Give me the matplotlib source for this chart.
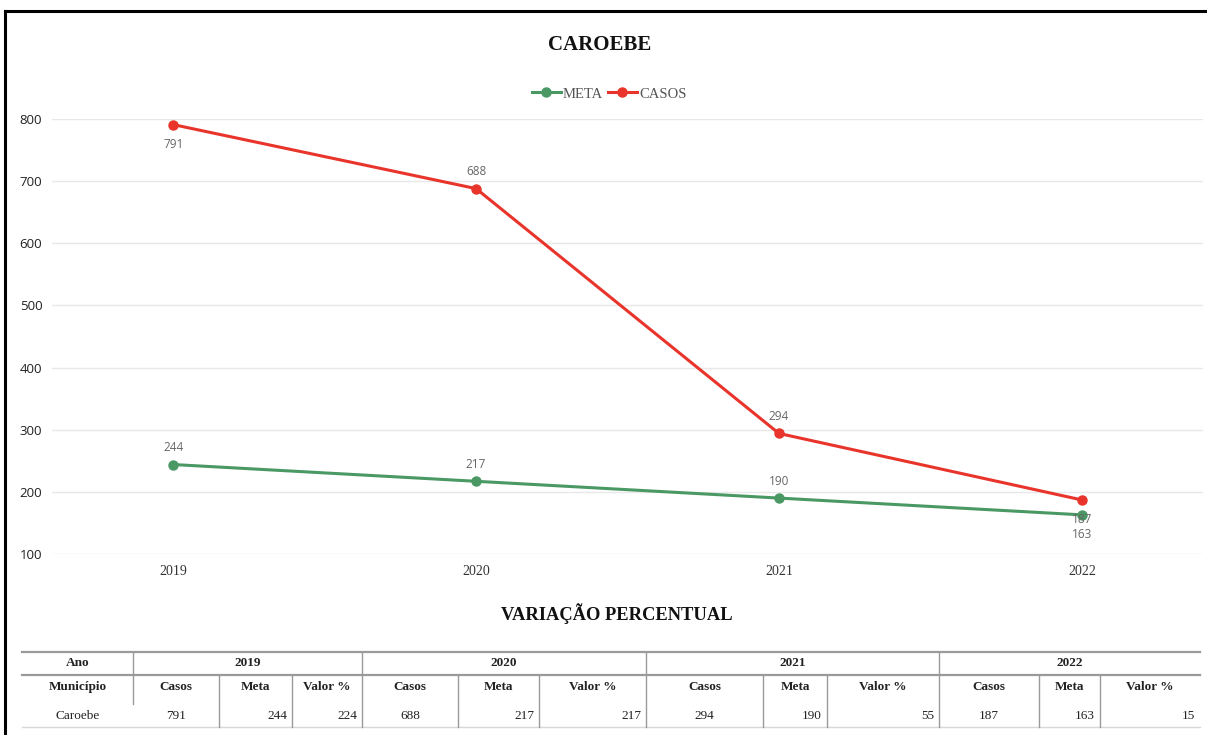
import matplotlib
matplotlib.use("Agg")
import matplotlib.pyplot as plt
from matplotlib.lines import Line2D

# ---- data ----
anos = ["2019", "2020", "2021", "2022"]
meta = [244, 217, 190, 163]
casos = [791, 688, 294, 187]
valor_pct = [224, 217, 55, 15]
municipio = "Caroebe"
title = "CAROEBE"
table_title = "VARIAÇÃO PERCENTUAL"

W, H = 1207, 735
fig = plt.figure(figsize=(W / 100, H / 100), dpi=100)

def fx(x):
    return x / W

def fy(y):
    return 1 - y / H

SERIF = "Liberation Serif"
SANS = "Open Sans"
RED = "#e8342b"
GREEN = "#4a9964"
LBL = "#666666"

# axes: x 52..1203, y 119..554
ax = fig.add_axes([fx(52), fy(554), fx(1203) - fx(52), fy(119) - fy(554)])
xs = list(range(len(anos)))
ax.plot(xs, meta, color=GREEN, lw=2.2, marker="o", ms=6.5, label="META", zorder=3)
ax.plot(xs, casos, color=RED, lw=2.2, marker="o", ms=6.5, label="CASOS", zorder=3)
ax.set_xlim(-0.4, 3.4)
ax.set_ylim(100, 800)
ax.set_yticks([100, 200, 300, 400, 500, 600, 700, 800])
ax.set_xticks(xs)
ax.set_xticklabels(anos, fontfamily=SERIF, fontsize=10, color="#333333")
for lab in ax.get_yticklabels():
    lab.set_fontfamily(SANS)
    lab.set_fontsize(9.5)
    lab.set_color("#222222")
ax.tick_params(axis="both", length=0)
ax.tick_params(axis="y", pad=7)
ax.tick_params(axis="x", pad=8)
ax.grid(axis="y", color="#e8e8e8", lw=1)
ax.set_axisbelow(True)
for s in ax.spines.values():
    s.set_visible(False)

# data labels (offsets in points)
casos_off = [-14, 12, 12, -14]
meta_off = [12, 12, 12, -14]
for i, v in enumerate(casos):
    ax.annotate(str(v), (i, v), xytext=(0, casos_off[i]), textcoords="offset points",
                ha="center", va="center", fontsize=8.5, color=LBL, fontfamily=SANS)
for i, v in enumerate(meta):
    ax.annotate(str(v), (i, v), xytext=(0, meta_off[i]), textcoords="offset points",
                ha="center", va="center", fontsize=8.5, color=LBL, fontfamily=SANS)

leg = fig.legend(handles=ax.get_lines(), loc="center", bbox_to_anchor=(fx(609), fy(94)),
                 ncol=2, frameon=False, handlelength=2.0, handletextpad=0.15,
                 columnspacing=0.3, prop={"family": SERIF, "size": 10.5})
for t in leg.get_texts():
    t.set_color("#555555")

fig.text(fx(600), fy(45), title, ha="center", va="center", fontfamily=SERIF,
         fontweight="bold", fontsize=15, color="#111111")
fig.text(fx(617), fy(614), table_title, ha="center", va="center", fontfamily=SERIF,
         fontweight="bold", fontsize=13.3, color="#111111")

# border (top & left)
fig.add_artist(Line2D([fx(5), fx(1207)], [fy(11), fy(11)], color="black", lw=2.2))
fig.add_artist(Line2D([fx(5), fx(5)], [fy(11), fy(735)], color="black", lw=2.2))

# ---- table ----
group_edges = [133, 362, 646, 939, 1200]
sub_edges = [[133, 219, 292, 362], [362, 458, 539, 646], [646, 763, 827, 939], [939, 1039, 1100, 1200]]
tx0, tx1 = 22, 1200
y_top, y_r1, y_r2, y_bot = 652, 675, 704, 727
ty1, ty2, ty3 = 663, 687, 716

def hline(y, color, lw):
    fig.add_artist(Line2D([fx(tx0), fx(tx1)], [fy(y), fy(y)], color=color, lw=lw))

def vline(x, y0, y1, color="#9a9a9a", lw=1):
    fig.add_artist(Line2D([fx(x), fx(x)], [fy(y0), fy(y1)], color=color, lw=lw))

hline(y_top, "#9a9a9a", 1.6)
hline(y_r1, "#9a9a9a", 1.6)
hline(y_bot, "#d8d8d8", 1.0)

vline(133, y_top, y_r2)
for g in group_edges[1:-1]:
    vline(g, y_top, y_bot)
for se in sub_edges:
    for x in se[1:-1]:
        vline(x, y_r1, y_bot)

tfont = dict(fontfamily=SERIF, fontsize=9.5, color="#222222", va="center")
fig.text(fx((tx0 + 133) / 2), fy(ty1), "Ano", ha="center", fontweight="bold", **tfont)
fig.text(fx((tx0 + 133) / 2), fy(ty2), "Município", ha="center", fontweight="bold", **tfont)
fig.text(fx((tx0 + 133) / 2), fy(ty3), municipio, ha="center", **tfont)

for i, ano in enumerate(anos):
    g0, g1 = group_edges[i], group_edges[i + 1]
    fig.text(fx((g0 + g1) / 2), fy(ty1), ano, ha="center", fontweight="bold", **tfont)
    se = sub_edges[i]
    for j, name in enumerate(["Casos", "Meta", "Valor %"]):
        fig.text(fx((se[j] + se[j + 1]) / 2), fy(ty2), name, ha="center", fontweight="bold", **tfont)
    fig.text(fx((se[0] + se[1]) / 2), fy(ty3), str(casos[i]), ha="center", **tfont)
    fig.text(fx(se[2] - 5), fy(ty3), str(meta[i]), ha="right", **tfont)
    fig.text(fx(se[3] - 5), fy(ty3), str(valor_pct[i]), ha="right", **tfont)

fig.savefig("out.png", dpi=100)
